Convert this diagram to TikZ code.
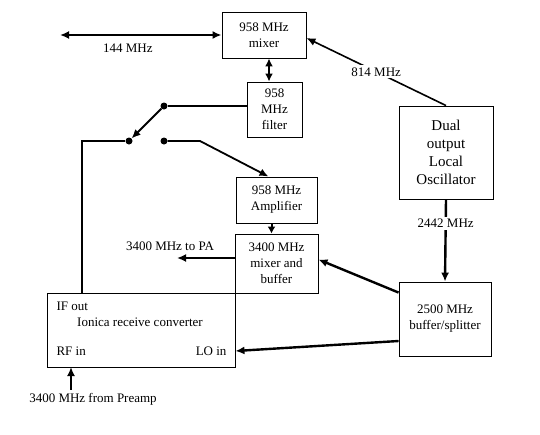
\documentclass[tikz,border=0pt]{standalone}
\usepackage{fontspec}
\setmainfont{Liberation Serif}
\usetikzlibrary{positioning, arrows, arrows.meta, calc}

\tikzset{
	block/.style={draw, rectangle, line width=0.9pt, text centered, align=center, inner sep=1pt},
	contact/.style={circle, fill, inner sep=0pt, minimum size=7pt},
	tip/.style={-{Latex[length=9pt, width=8pt]}},
	signal/.style={line width=2.4pt, tip},
}

\begin{document}
\begin{tikzpicture}[x=1pt, y=-1pt, font=\fontsize{13}{16}\selectfont]
			
			\useasboundingbox (0,0) rectangle (540,434);
			
			%958 MHz mixer and filter
			\node (mixA) at (264,35) [block, minimum width=84pt, minimum height=46pt]{958 MHz\\mixer};
			\node (filt) at (274.5,109.5) [block, minimum width=55pt, minimum height=55pt]{958\\MHz\\filter};
			
			%Local oscillator
			\node (LO) at (446,152.5) [block, minimum width=94pt, minimum height=93pt, 
			font=\fontsize{15}{18}\selectfont]{Dual\\output\\Local\\Oscillator};
			
			%Transmit chain
			\node (amp) at (276.5,200) [block, minimum width=81pt, minimum height=46pt]{958 MHz\\Amplifier};
			\node (mixB) at (276.5,263.5) [block, minimum width=83pt, minimum height=59pt]{3400 MHz\\mixer and\\buffer};
			\node (split) at (445,319) [block, minimum width=92pt, minimum height=74pt]{2500 MHz\\buffer/splitter};
			
			%Receive converter
			\node (ionica) at (141,330) [block, minimum width=188pt, minimum height=74pt]{};
			\node (ifOut) at (53,306) [anchor=west]{IF out};
			\node (ionicaName) at (140,322) {Ionica receive converter};
			\node (rfIn) at (53,351) [anchor=west]{RF in};
			\node (loIn) at (230,351) [anchor=east]{LO in};
			
			%Switch
			\node (swUp) at (164,106) [contact]{};
			\node (swPivot) at (129,141) [contact]{};
			\node (swDown) at (164,141) [contact]{};
			\coordinate (ifBend) at (82,141);
			\coordinate (ampBend) at (200,141);
			
			%Free ends
			\coordinate (ifPort) at (60,35);
			\coordinate (paOut) at (177,258);
			\coordinate (rfPort) at (71,367);
			\node (preamp) at (93,399) {3400 MHz from Preamp};
			\node (lblPA) at (170,246) {3400 MHz to PA};
			
			%Links
			\draw[line width=2.4pt, {Latex[length=9pt, width=8pt]}-{Latex[length=9pt, width=8pt]}] 
			(ifPort) -- (ifPort -| mixA.west) node[pos=0.42, below=4pt] (lbl144){144 MHz};
			\draw[line width=2.4pt, {Latex[length=8pt, width=8pt]}-{Latex[length=8pt, width=8pt]}] 
			([xshift=5pt]mixA.south) -- ([xshift=5pt]mixA.south |- filt.north);
			\draw[line width=1.6pt, tip] (LO.north) -- ([yshift=-3pt]mixA.east) 
			node[midway, fill=white, inner sep=2pt] (lbl814){814 MHz};
			\draw[signal] (LO.south) -- (split.north) 
			node[pos=0.29, fill=white, inner sep=2pt] (lbl2442){2442 MHz};
			
			\draw[line width=1.8pt] (swUp) -- (swUp -| filt.west);
			\draw[line width=1.8pt, tip] (swUp) -- (swPivot);
			\draw[line width=1.4pt] (swPivot) -- (ifBend) -- (ifBend |- ionica.north);
			\draw[line width=1.8pt, tip] (swDown) -- (ampBend) -- ([xshift=-8pt]amp.north);
			
			\draw[line width=2pt, -{Latex[length=7pt, width=8pt]}] ([xshift=-5pt]amp.south) -- ([xshift=-5pt]amp.south |- mixB.north);
			\draw[signal] (paOut -| mixB.west) -- (paOut);
			\draw[signal] ([yshift=-11pt]split.north west) -- ([yshift=4pt]mixB.east);
			\draw[signal] ([yshift=-22pt]split.west) -- ([yshift=-21pt]ionica.east);
			\draw[signal] (preamp.north -| rfPort) -- (rfPort);
			
\end{tikzpicture}
\end{document}
